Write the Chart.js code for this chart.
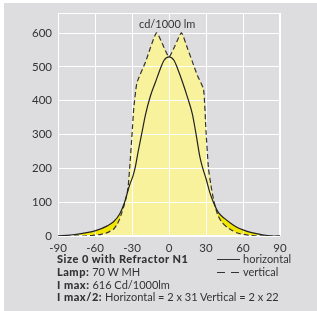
<!DOCTYPE html>
<html>
<head>
<meta charset="utf-8">
<script src="https://cdn.jsdelivr.net/npm/chart.js@4"></script>
<style>
  html, body { margin: 0; padding: 0; background: #fff; }
  #box { position: absolute; left: 4px; top: 3px; width: 313px; height: 308px; background: #dddde0; }
  #wrap { position: absolute; left: 0; top: 0; width: 317px; height: 260px; }
  .txt { position: absolute; font-family: Lato, sans-serif; font-size: 11px; color: #333; white-space: nowrap; }
  .b { font-weight: 900; letter-spacing: 0.5px; }
  .ln { position: absolute; width: 23px; height: 1px; }
</style>
</head>
<body>
<div id="box"></div>
<div id="wrap"><canvas id="photometry"></canvas></div>
<div class="txt" style="left:139px; top:17px;">cd/1000 lm</div>
<div class="txt" style="left:57px; top:252px;"><span class="b">Size 0 with Refractor N1</span></div>
<div class="txt" style="left:57px; top:265px;"><span class="b">Lamp:</span> 70 W MH</div>
<div class="txt" style="left:57px; top:278px;"><span class="b">I max:</span> 616 Cd/1000lm</div>
<div class="txt" style="left:57px; top:290px;"><span class="b">I max/2:</span> Horizontal = 2 x 31 Vertical = 2 x 22</div>
<div class="ln" style="left:217px; top:259px; background:#333;"></div>
<div class="txt" style="left:243px; top:252px;">horizontal</div>
<div class="ln" style="left:217px; top:272px; background:repeating-linear-gradient(90deg, #333 0 8px, transparent 8px 14px);"></div>
<div class="txt" style="left:243px; top:265px;">vertical</div>
<script>
// horizontal plane (solid line)
const hAngles = [-90, -80, -70, -60, -50, -45, -40, -36, -32, -29, -27, -25, -22, -19, -15, -11, -7, -4, 0,
                 4, 7, 11, 15, 19, 22, 25, 27, 30, 33, 36, 40, 45, 50, 55, 60, 67, 75, 85, 90];
const hValues = [0, 3, 8, 15, 30, 42, 65, 100, 150, 180, 210, 250, 305, 360, 415, 455, 495, 520, 530,
                 520, 495, 455, 410, 360, 300, 235, 205, 170, 130, 100, 70, 52, 38, 26, 18, 10, 4, 0, 0];

// vertical plane (dashed line, filled)
const vAngles = [-90, -70, -62, -55, -50, -45, -42, -40, -38, -36, -34, -33, -31.5, -30, -28.5, -26, -19, -10, 0,
                 10, 15, 19, 23, 28, 30, 32, 34, 36, 38, 40, 43, 47, 52, 56, 65, 75, 90];
const vValues = [0, 0, 2, 5, 10, 20, 35, 50, 72, 95, 125, 150, 220, 300, 380, 453, 515, 601, 530,
                 601, 555, 515, 475, 434, 310, 200, 150, 110, 80, 58, 40, 26, 15, 8, 2, 0, 0];

const xTicks = [-90, -60, -30, 0, 30, 60, 90];
const yTicks = [0, 100, 200, 300, 400, 500, 600];

const toPoints = (xs, ys) => xs.map((x, i) => ({ x: x, y: ys[i] }));

// white frame round the plot area
const framePlugin = {
    id: 'frame',
    beforeDatasetsDraw(chart) {
        const a = chart.chartArea, ctx = chart.ctx;
        ctx.save();
        ctx.strokeStyle = '#ffffff';
        ctx.lineWidth = 1;
        ctx.strokeRect(Math.round(a.left) + 0.5, Math.round(a.top) + 0.5,
                       Math.round(a.right - a.left) - 1, Math.round(a.bottom - a.top) - 1);
        ctx.restore();
    }
};

const ctx = document.getElementById('photometry').getContext('2d');
const chart = new Chart(ctx, {
    type: 'line',
    data: {
        datasets: [{
            label: 'horizontal',
            data: toPoints(hAngles, hValues),
            borderColor: '#222222',
            borderWidth: 1.2,
            fill: { target: 1, above: '#f3e600', below: 'rgba(0,0,0,0)' },
            pointRadius: 0,
            cubicInterpolationMode: 'monotone'
        }, {
            label: 'vertical',
            data: toPoints(vAngles, vValues),
            borderColor: '#333333',
            borderWidth: 1.2,
            borderDash: [5, 3],
            backgroundColor: '#f8f29c',
            fill: 'origin',
            pointRadius: 0,
            tension: 0.15
        }]
    },
    options: {
        responsive: true,
        maintainAspectRatio: false,
        animation: false,
        layout: { padding: { left: 0, right: 37, top: 12, bottom: 3 } },
        plugins: {
            legend: { display: false },
            tooltip: { enabled: false },
            filler: { drawTime: 'beforeDraw' }
        },
        scales: {
            x: {
                type: 'linear',
                min: -90,
                max: 90,
                afterBuildTicks: (scale) => { scale.ticks = xTicks.map(v => ({ value: v })); },
                afterFit: (scale) => { scale.height = 21; },
                grid: { color: '#ffffff', lineWidth: 1, drawTicks: false },
                border: { display: false },
                ticks: { color: '#333', padding: 5, font: { family: 'Lato', size: 11.5 }, maxRotation: 0 }
            },
            y: {
                min: 0,
                max: 660,
                afterBuildTicks: (scale) => { scale.ticks = yTicks.map(v => ({ value: v })); },
                afterFit: (scale) => { scale.width = 58; },
                grid: { color: '#ffffff', lineWidth: 1, drawTicks: false },
                border: { display: false },
                ticks: { color: '#333', padding: 6, font: { family: 'Lato', size: 11.5 } }
            }
        }
    },
    plugins: [framePlugin]
});
</script>
</body>
</html>
